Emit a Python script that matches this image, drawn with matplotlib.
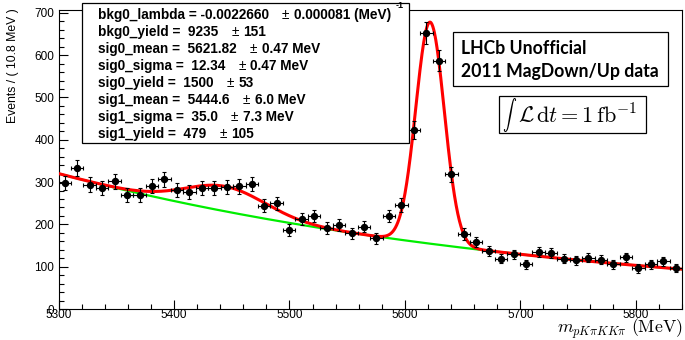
import numpy as np
import matplotlib
matplotlib.use("Agg")
from matplotlib import pyplot as plt
from matplotlib.patches import Rectangle
from matplotlib.ticker import MultipleLocator

W, H = 685, 340

X_MIN, X_MAX = 5300.0, 5840.0
BIN_WIDTH = 10.8

# events per bin
counts = [298, 333, 294, 286, 302, 270, 269, 291, 307, 281,
          277, 286, 286, 289, 290, 295, 244, 250, 187, 213,
          220, 191, 199, 179, 195, 167, 220, 246, 423, 652,
          587, 319, 177, 158, 138, 119, 129, 106, 134, 132,
          119, 115, 121, 117, 106, 122, 96, 106, 113, 97]

# fit result as printed in the stat box
bkg_lambda = -0.0022660
bkg_yield = 9235
sig_mean = [5621.82, 5444.6]
sig_sigma = [12.34, 35.0]
sig_yield = [1500, 479]

stat_names = ["bkg0_lambda = -0.0022660", "bkg0_yield =  9235", "sig0_mean =  5621.82",
              "sig0_sigma =  12.34", "sig0_yield =  1500", "sig1_mean =  5444.6",
              "sig1_sigma =  35.0", "sig1_yield =  479"]
stat_errors = ["0.000081 (MeV)", "151", "0.47 MeV", "0.47 MeV", "53", "6.0 MeV",
               "7.3 MeV", "105"]


def fx(x):
    return x / W


def fy(y):
    return 1 - y / H


def background(x):
    norm = (1 - np.exp(bkg_lambda * (X_MAX - X_MIN))) / (-bkg_lambda)
    return bkg_yield * BIN_WIDTH * np.exp(bkg_lambda * (x - X_MIN)) / norm


def gauss(x, mu, sigma, n):
    return n * BIN_WIDTH / (np.sqrt(2 * np.pi) * sigma) * np.exp(-0.5 * ((x - mu) / sigma) ** 2)


plt.rcParams["font.family"] = ["Liberation Sans", "DejaVu Sans"]

fig = plt.figure(figsize=(W / 100, H / 100), dpi=100)
ax = fig.add_axes([fx(58.5), fy(309), fx(682 - 58.5), (309 - 9.5) / H])

centers = X_MIN + BIN_WIDTH * (np.arange(len(counts)) + 0.5)
y = np.array(counts, dtype=float)

xs = np.linspace(X_MIN, X_MAX, 1500)
bkg = background(xs)
total = bkg + sum(gauss(xs, m, s, n) for m, s, n in zip(sig_mean, sig_sigma, sig_yield))

ax.plot(xs, bkg, color="#00ee00", lw=1.6, zorder=2)
ax.plot(xs, total, color="#ff0000", lw=2.2, zorder=3)
ax.errorbar(centers, y, xerr=BIN_WIDTH / 2, yerr=np.sqrt(y), fmt="o", color="black",
            ms=4.3, elinewidth=0.8, capsize=1.5, capthick=0.8, zorder=4)

ax.set_xlim(X_MIN, X_MAX)
ax.set_ylim(0, 708)
ax.xaxis.set_major_locator(MultipleLocator(100))
ax.xaxis.set_minor_locator(MultipleLocator(20))
ax.yaxis.set_major_locator(MultipleLocator(100))
ax.yaxis.set_minor_locator(MultipleLocator(20))
ax.tick_params(which="major", direction="in", length=6.5, width=0.8, labelsize=8.5)
ax.tick_params(axis="x", pad=0)
ax.tick_params(axis="y", pad=3)
ax.tick_params(which="minor", direction="in", length=3.3, width=0.8)
for s in ax.spines.values():
    s.set_linewidth(0.8)

fig.text(fx(13), fy(8), "Events / ( 10.8 MeV )", rotation=90, ha="center", va="top",
         fontsize=8.8)
fig.text(fx(683), fy(332.5), r"$m_{pK\pi KK\pi}\ \mathrm{(MeV)}$", ha="right",
         va="baseline", fontsize=12.8, math_fontfamily="cm")

# stat box
fig.add_artist(Rectangle((fx(82), fy(143)), fx(409 - 82), (143 - 3) / H,
                         transform=fig.transFigure, facecolor="white",
                         edgecolor="black", lw=0.9, zorder=5))
renderer = fig.canvas.get_renderer()
for i, (name, err) in enumerate(zip(stat_names, stat_errors)):
    yy = fy(15 + 17 * i)
    t = fig.text(fx(98), yy, name, fontsize=9.8, fontweight="bold", va="center", zorder=6)
    end = t.get_window_extent(renderer).x1
    fig.text(fx(end + 13), yy, "\u00b1", fontsize=9.8, va="center", zorder=6)
    fig.text(fx(end + 25), yy, err, fontsize=9.8, fontweight="bold", va="center", zorder=6)
fig.text(fx(396), fy(6), "-1", fontsize=6.5, fontweight="bold", va="center", zorder=6)

# LHCb label
fig.add_artist(Rectangle((fx(453), fy(86)), fx(668 - 453), (86 - 32) / H,
                         transform=fig.transFigure, facecolor="white",
                         edgecolor="black", lw=0.9, zorder=5))
fig.text(fx(461), fy(49), "LHCb Unofficial", fontsize=12.7, fontweight="bold",
         family="Lato", va="center", zorder=6)
fig.text(fx(461), fy(72), "2011 MagDown/Up data", fontsize=12.7, fontweight="bold",
         family="Lato", va="center", zorder=6)

# luminosity label
fig.add_artist(Rectangle((fx(499), fy(133)), fx(646 - 499), (133 - 96) / H,
                         transform=fig.transFigure, facecolor="white",
                         edgecolor="black", lw=0.9, zorder=5))
fig.text(fx(510), fy(115), r"$\int$", fontsize=10, math_fontfamily="cm",
         ha="center", va="center", zorder=6)
fig.text(fx(518), fy(116), r"$\mathcal{L}\,\mathrm{d}t = 1\,\mathrm{fb}^{-1}$",
         fontsize=16, math_fontfamily="cm", ha="left", va="center", zorder=6)

fig.savefig("out.png", dpi=100)
